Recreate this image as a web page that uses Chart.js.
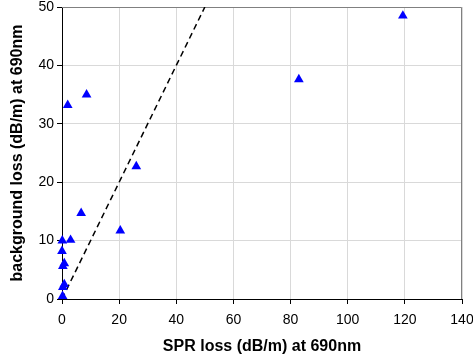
<!DOCTYPE html>
<html>
<head>
<meta charset="utf-8">
<script src="https://cdn.jsdelivr.net/npm/chart.js@4/dist/chart.umd.min.js"></script>
<style>
  html, body { margin: 0; padding: 0; background: #fff; }
  #wrap { width: 473px; height: 360px; }
</style>
</head>
<body>
<div id="wrap"><canvas id="grafico"></canvas></div>
<script>
// valores
const perdidaSPR   = [0.1, 3.0, 0.0, 0.3, 0.8, 0.3, 0.8, 0.2, 6.7, 20.4, 26.0, 2.0, 8.6, 82.9, 119.3];
const perdidaFondo = [10.0, 10.1, 8.2, 5.6, 6.1, 2.0, 2.5, 0.5, 14.7, 11.7, 22.7, 33.2, 35.0, 37.6, 48.5];

// linea y = x
const lineaX = [0, 50];
const lineaY = [0, 50];

const tituloX = 'SPR loss (dB/m) at 690nm';
const tituloY = 'background loss (dB/m) at 690nm';

const puntos = perdidaSPR.map((v, i) => ({ x: v, y: perdidaFondo[i] }));
const linea = lineaX.map((v, i) => ({ x: v, y: lineaY[i] }));

// borde gris arriba y a la derecha
const bordeArea = {
  id: 'bordeArea',
  beforeDatasetsDraw(chart) {
    const { ctx, chartArea: a } = chart;
    ctx.save();
    ctx.strokeStyle = '#808080';
    ctx.lineWidth = 1;
    ctx.beginPath();
    ctx.moveTo(a.left, a.top + 0.5);
    ctx.lineTo(a.right - 0.5, a.top + 0.5);
    ctx.lineTo(a.right - 0.5, a.bottom);
    ctx.stroke();
    ctx.restore();
  }
};

const fuente = "'Liberation Sans', Arial, sans-serif";

new Chart(document.getElementById('grafico'), {
  type: 'scatter',
  data: {
    datasets: [
      {
        label: 'datos',
        data: puntos,
        pointStyle: 'triangle',
        pointRadius: 5.6,
        pointHoverRadius: 5.6,
        backgroundColor: '#0000ff',
        borderColor: '#0000ff',
        borderWidth: 0,
        clip: false
      },
      {
        label: 'y=x',
        type: 'line',
        data: linea,
        borderColor: '#000000',
        borderWidth: 1.5,
        borderDash: [6, 4],
        pointRadius: 0,
        fill: false
      }
    ]
  },
  options: {
    responsive: true,
    maintainAspectRatio: false,
    animation: false,
    events: [],
    layout: { padding: { top: 7, right: 11, left: 0, bottom: 0 } },
    plugins: { legend: { display: false }, tooltip: { enabled: false } },
    scales: {
      x: {
        type: 'linear',
        min: 0, max: 140,
        ticks: { stepSize: 20, color: '#000', font: { family: fuente, size: 14 }, padding: 8 },
        grid: { color: '#d9d9d9', tickColor: '#000', tickLength: 5 },
        border: { color: '#000', width: 1 },
        title: { display: true, text: tituloX, color: '#000', font: { family: fuente, size: 16, weight: 'bold' }, padding: { top: 2 } },
        afterFit(s) { s.height = 61; s.paddingLeft = 0; s.paddingRight = 0; }
      },
      y: {
        type: 'linear',
        min: 0, max: 50,
        ticks: { stepSize: 10, color: '#000', font: { family: fuente, size: 14 }, padding: 3 },
        grid: { color: '#d9d9d9', tickColor: '#000', tickLength: 5 },
        border: { color: '#000', width: 1 },
        title: { display: true, text: tituloY, color: '#000', font: { family: fuente, size: 16, weight: 'bold' }, padding: { top: 8, bottom: 0 } },
        afterFit(s) { s.width = 62; s.paddingTop = 0; s.paddingBottom = 0; }
      }
    }
  },
  plugins: [bordeArea]
});
</script>
</body>
</html>
